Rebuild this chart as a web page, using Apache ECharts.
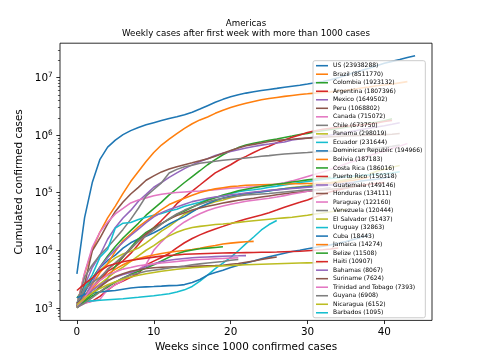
<!DOCTYPE html>
<html><head><meta charset="utf-8">
<script src="https://cdn.jsdelivr.net/npm/echarts@6/dist/echarts.min.js"></script>
<style>html,body{margin:0;padding:0;background:#fff}#c{width:480px;height:360px}</style>
</head><body><div id="c"></div>
<script>
const countries = ["US","Brazil","Colombia","Argentina","Mexico","Peru","Canada","Chile","Panama","Ecuador","Dominican Republic","Bolivia","Costa Rica","Puerto Rico","Guatemala","Honduras","Paraguay","Venezuela","El Salvador","Uruguay","Cuba","Jamaica","Belize","Haiti","Bahamas","Suriname","Trinidad and Tobago","Guyana","Nicaragua","Barbados"];

const us = [3900,37000,150000,380000,620000,820000,1020000,1200000,1360000,1510000,1650000,1790000,1940000,2090000,2270000,2510000,2840000,3250000,3720000,4190000,4640000,5030000,5380000,5670000,5960000,6240000,6500000,6790000,7080000,7380000,7730000,8120000,8570000,9150000,9900000,10950000,12150000,13300000,14580000,16150000,17750000,19150000,20650000,22350000,23938288];
const brazil = [1128,3904,10278,20727,36599,58509,97100,156061,233142,347398,498440,672846,850514,1067579,1313667,1577004,1839850,2074860,2394513,2707877,3012412,3317096,3582362,3846153,4123000,4330455,4528240,4717991,4906833,5082637,5224362,5380635,5535605,5653561,5848959,6052786,6290272,6577177,6880127,7213155,7465806,7716405,8105790,8511770];
const colombia = [1485,2223,3233,5142,7973,11613,16295,21981,29383,40719,53063,68652,91769,117110,150445,190700,240795,306181,376870,456689,533103,607904,671848,721892,765076,813056,855052,911316,965883,1025052,1074184,1143887,1198746,1254979,1308376,1371103,1444646,1526828,1603807,1675820,1786900,1923132];
const argentina = [1054,1628,2277,3031,4285,5208,6563,8809,12628,18319,24761,32785,44931,64530,83426,106910,136118,173355,220682,260911,305966,370188,428239,500034,577338,640147,736609,824468,917035,1002662,1116596,1195276,1262476,1318384,1374631,1424533,1469919,1510203,1555279,1625000,1722000,1807396];
const mexico = [1094,2439,5014,8261,15529,24905,36327,49219,71105,93435,124301,150264,185122,220657,261750,304435,349396,390516,443813,485836,522162,560164,599560,637509,671716,700580,733717,761665,821045,854926,891160,929392,978531,1009396,1049358,1107071,1175850,1255974,1320545,1389430,1455219,1541633,1649502];
const peru = [1065,2561,9784,16325,28699,47372,68822,94933,123979,164476,196515,229736,257447,282365,305703,330123,357681,389717,428850,483133,541493,600438,652037,691575,733860,772896,811768,832929,851171,870876,888715,906606,922333,939931,952439,964492,976876,988958,1000153,1011871,1022018,1040231,1068802];
const canada = [1087,4043,11284,20654,30809,42750,53236,66434,74613,81324,88512,94335,97943,100629,103032,105536,107347,109669,112672,116312,119451,122087,124629,127358,131124,135626,141911,149094,160535,175559,191732,209148,229705,253752,284040,317316,353097,394041,437313,482795,527000,590000,645000,715072];
const chile = [1142,3404,5546,8273,11296,16023,23048,34381,53617,86943,113628,148496,220628,254416,282043,301019,323698,338759,351575,366671,378168,390037,402365,414739,428669,441150,455979,469889,481371,490003,498906,508571,517011,526438,536012,546223,556339,566039,580000,596000,614000,640000,673750];
const panama = [1075,1988,3234,4467,5779,7387,8616,9606,10926,13463,16854,21422,26030,32785,42216,48096,55153,63269,69424,74492,81940,87485,93982,99715,104879,108726,113342,118000,122879,127227,132045,137792,143900,150000,158000,167000,178000,192000,210000,235000,255000,276000,298019];
const ecuador = [1049,2240,3747,7603,10398,24258,29559,30298,34151,37355,40414,43378,47943,51643,58257,63245,68459,76217,83193,87041,96863,103478,109030,112582,117175,124129,130148,136517,143395,150266,156450,163115,170110,176630,182052,189534,195884,199899,204314,208431,212512,220000,231644];
const dominicanRepublic = [1109,1828,3167,4964,6652,8235,10900,13477,15723,17572,20126,23686,28631,33387,38430,46305,55915,64156,73167,80499,87000,93000,97000,100000,103000,107000,113000,117000,121000,124000,127000,130000,133000,137000,141000,146000,152000,160000,166000,171000,180000,194966];
const bolivia = [1014,1594,2556,4088,5915,9592,14644,19073,25493,32125,40509,50867,62173,71181,80153,89999,100572,109088,116598,122308,127619,131043,134641,136569,137964,139319,140445,141631,142663,143569,144451,145300,146400,148000,151000,158000,165000,175000,187183];
const costaRica = [1056,1342,1744,2277,3269,5241,7596,11114,15841,20417,24507,29084,34463,42000,48000,56000,65000,74000,82000,91000,99000,108000,115000,122000,128000,134000,140000,146000,153000,160000,167000,173000,180000,186016];
const puertoRico = [1043,1213,1307,1575,2031,2542,2913,3397,3935,5536,6480,7500,8800,11000,13500,16000,18500,21000,23500,26000,29000,32000,35000,38000,41000,45000,50000,56000,62000,68000,75000,84000,94000,104000,112000,120000,128000,135000,140000,145000,150318];
const guatemala = [1052,1518,2743,5087,7502,10272,13769,18096,23248,30187,38042,45053,51306,56605,63000,70000,75000,80000,84000,88000,92000,95000,99000,103000,106000,110000,112000,115000,118000,121000,124000,127000,131000,136000,140000,145000,149146];
const honduras = [1055,1500,2300,3200,4700,6000,7700,10500,14500,19500,24000,29000,35000,40000,45000,50000,54000,58000,62000,66000,70000,74000,77000,80000,84000,88000,92000,96000,100000,103000,106000,109000,112000,115000,118000,122000,127000,134111];
const paraguay = [1013,1200,1300,1400,2100,2500,3000,3900,4600,5700,10000,14000,19000,25000,31000,37000,43000,49000,54000,59000,63000,67000,71000,74000,77000,80000,84000,89000,95000,100000,106000,111000,117000,122160];
const venezuela = [1211,2087,2738,3386,4563,6062,8010,10854,14263,17859,22299,28365,35290,42898,49877,56751,63289,69439,75678,80404,84391,88000,91000,93000,95000,97000,100000,103000,106000,109000,112000,114000,117000,120444];
const elSalvador = [1037,1500,2000,2600,3300,4200,5100,6400,8000,10000,12000,15000,17800,20500,23000,24800,26000,27000,28000,28700,29500,30500,31500,32500,33500,34500,35500,36500,37500,39000,40500,42500,44500,46500,48500,51437];
const uruguay = [1250,1290,1320,1350,1380,1410,1440,1480,1520,1570,1620,1680,1760,1880,2050,2350,2900,3700,4800,6000,7500,9800,13000,17000,22500,28000,32863];
const cuba = [1500,1700,1800,1880,1950,2000,2100,2200,2280,2310,2340,2380,2430,2450,2530,2750,3100,3700,4100,4500,5000,5500,6000,6500,7100,7700,8300,8900,9500,10000,10600,11200,11800,12400,13200,14200,15400,16800,18443];
const jamaica = [1000,1400,2100,3000,3800,4700,5600,6500,7200,7800,8300,8800,9200,9600,9900,10300,10800,11500,12100,12800,13300,13700,14000,14274];
const belize = [1000,1300,1600,1900,2300,2800,3300,3800,4300,4900,5600,6500,7600,8700,9500,10100,10600,10900,11200,11508];
const haiti = [2000,2600,3300,4400,5300,5800,6300,6700,7000,7300,7600,7900,8100,8300,8500,8600,8700,8800,8900,8950,9000,9050,9100,9150,9200,9250,9300,9400,9500,9600,9800,10000,10200,10500,10907];
const bahamas = [1000,1500,2000,2500,3000,3400,3800,4100,4600,5200,5800,6300,6700,7000,7200,7400,7550,7650,7750,7850,7950,8000,8067];
const suriname = [1200,1500,1800,2300,2900,3500,3900,4300,4600,4800,4950,5050,5100,5150,5200,5250,5300,5350,5400,5500,5700,5900,6200,6500,6900,7300,7624];
const trinidadAndTobago = [1100,1500,2300,3000,3700,4200,4700,5000,5400,5600,5800,6000,6200,6400,6600,6800,6900,7000,7100,7200,7300,7393];
const guyana = [1024,1200,1500,1900,2400,2800,3300,3700,4000,4300,4500,4700,4900,5100,5300,5600,5800,6000,6200,6400,6700,6908];
const nicaragua = [1118,1464,1823,2170,2519,2846,3147,3439,3672,3902,4115,4311,4494,4668,4818,4961,5073,5170,5264,5353,5434,5514,5591,5661,5725,5781,5838,5887,5937,5983,6029,6080,6152];
const barbados = [1095];

const seriesValues = [us,brazil,colombia,argentina,mexico,peru,canada,chile,panama,ecuador,dominicanRepublic,bolivia,costaRica,puertoRico,guatemala,honduras,paraguay,venezuela,elSalvador,uruguay,cuba,jamaica,belize,haiti,bahamas,suriname,trinidadAndTobago,guyana,nicaragua,barbados];

const xTicks = [0,10,20,30,40];
const yTicks = [1e3,1e4,1e5,1e6,1e7];
const yMinorTicks = [700,800,900,2e3,3e3,4e3,5e3,6e3,7e3,8e3,9e3,2e4,3e4,4e4,5e4,6e4,7e4,8e4,9e4,2e5,3e5,4e5,5e5,6e5,7e5,8e5,9e5,2e6,3e6,4e6,5e6,6e6,7e6,8e6,9e6,2e7,3e7];
const palette = ['#1f77b4','#ff7f0e','#2ca02c','#d62728','#9467bd','#8c564b','#e377c2','#7f7f7f','#bcbd22','#17becf'];

const FONT = 'DejaVu Sans';
const xMin = -2.2, xMax = 46.2;
const yMin = Math.pow(10, 2.78104), yMax = Math.pow(10, 7.59806);

const labels = countries.map((c, i) => c + ' (' + seriesValues[i][seriesValues[i].length - 1] + ')');

const series = seriesValues.map((vals, i) => ({
  type: 'line',
  name: labels[i],
  data: vals.map((v, w) => [w, v]),
  showSymbol: false,
  symbol: 'none',
  color: palette[i % 10],
  lineStyle: { width: 1.56, color: palette[i % 10] },
  itemStyle: { color: palette[i % 10] },
  emphasis: { disabled: true },
  silent: true,
  animation: false,
  z: 2
}));

const chart = echarts.init(document.getElementById('c'), null, { renderer: 'canvas' });
chart.setOption({
  animation: false,
  backgroundColor: '#ffffff',
  grid: { left: 60, right: 48, top: 43.2, bottom: 39.6, show: true, borderColor: '#000', borderWidth: 0.83, backgroundColor: 'transparent' },
  xAxis: {
    type: 'value', min: xMin, max: xMax,
    name: 'Weeks since 1000 confirmed cases', nameLocation: 'middle', nameGap: 21,
    nameTextStyle: { fontFamily: FONT, fontSize: 10.4, color: '#000' },
    axisLine: { show: false, onZero: false },
    axisTick: { show: true, customValues: xTicks, length: 3.65, lineStyle: { color: '#000', width: 0.83 } },
    axisLabel: { customValues: xTicks, margin: 7.3, fontFamily: FONT, fontSize: 10.4, color: '#000' },
    splitLine: { show: false }
  },
  yAxis: [{
    type: 'log', logBase: 10, min: yMin, max: yMax, position: 'left',
    name: 'Cumulated confirmed cases', nameLocation: 'middle', nameGap: 25, nameRotate: 90,
    nameTextStyle: { fontFamily: FONT, fontSize: 10.4, color: '#000' },
    axisLine: { show: false, onZero: false },
    axisTick: { show: true, customValues: yTicks, length: 3.65, lineStyle: { color: '#000', width: 0.83 } },
    axisLabel: {
      customValues: yTicks, margin: 7.3,
      formatter: v => '{b|10}{s|' + Math.round(Math.log10(v)) + '}',
      rich: {
        b: { fontFamily: FONT, fontSize: 10.4, color: '#000', lineHeight: 12, verticalAlign: 'bottom' },
        s: { fontFamily: FONT, fontSize: 7.28, color: '#000', lineHeight: 5, verticalAlign: 'top' }
      }
    },
    splitLine: { show: false }, minorTick: { show: false }
  }, {
    type: 'log', logBase: 10, min: yMin, max: yMax, position: 'left',
    axisLine: { show: false, onZero: false },
    axisTick: { show: true, customValues: yMinorTicks, length: 2.08, lineStyle: { color: '#000', width: 0.63 } },
    axisLabel: { show: false },
    splitLine: { show: false }
  }],
  legend: {
    data: labels, orient: 'vertical', left: 313, top: 60.7,
    padding: [1.5, 3, 1.5, 3], itemGap: 1.52, itemWidth: 12, itemHeight: 1.56, icon: 'rect',
    selectedMode: false,
    textStyle: { fontFamily: FONT, fontSize: 6.03, color: '#000', lineHeight: 7 },
    backgroundColor: 'rgba(255,255,255,0.8)', borderColor: '#cccccc', borderWidth: 1, borderRadius: 2,
    z: 10
  },
  graphic: [
    { type: 'text', x: 246, y: 23.5, z: 20, style: { text: 'Americas', fontFamily: FONT, fontSize: 8.68, fill: '#000', align: 'center', verticalAlign: 'middle' } },
    { type: 'text', x: 246, y: 33.8, z: 20, style: { text: 'Weekly cases after first week with more than 1000 cases', fontFamily: FONT, fontSize: 8.68, fill: '#000', align: 'center', verticalAlign: 'middle' } }
  ],
  series: series
});
</script>
</body></html>
